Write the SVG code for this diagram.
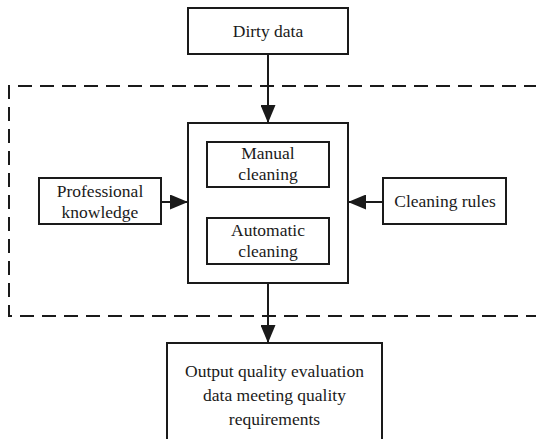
<svg xmlns="http://www.w3.org/2000/svg" width="536" height="439" viewBox="0 0 536 439">
<style>
.box{fill:#fff;stroke:#1a1a1a;stroke-width:2}
.t{font-family:"Liberation Serif","Times New Roman",serif;font-size:17.5px;fill:#1a1a1a;text-anchor:middle}
.ln{stroke:#1a1a1a;stroke-width:2;fill:none}
.dash{stroke:#1a1a1a;stroke-width:2;fill:none;stroke-dasharray:14 8}
</style>
<defs>
<marker id="ah2" viewBox="0 0 10 10" refX="10" refY="5" markerWidth="18" markerHeight="15" markerUnits="userSpaceOnUse" orient="auto" preserveAspectRatio="none">
<path d="M0,0 L10,5 L0,10 Z" fill="#1a1a1a"/>
</marker>
</defs>
<path class="dash" d="M560,86 H9 V316 H560"/>
<g id="dirty"><rect class="box" x="188" y="8" width="160" height="46"/><text class="t" x="268" y="37">Dirty data</text></g>
<g id="main"><rect class="box" x="188" y="123" width="160" height="160"/></g>
<g id="manual"><rect class="box" x="207" y="142" width="122" height="45"/><text class="t" x="268" y="159">Manual</text><text class="t" x="268" y="180">cleaning</text></g>
<g id="auto"><rect class="box" x="207" y="218" width="122" height="46"/><text class="t" x="268" y="236">Automatic</text><text class="t" x="268" y="257">cleaning</text></g>
<g id="prof"><rect class="box" x="39" y="178" width="122" height="46"/><text class="t" x="100" y="197">Professional</text><text class="t" x="100" y="218">knowledge</text></g>
<g id="rules"><rect class="box" x="383" y="178" width="123" height="46"/><text class="t" x="445" y="207">Cleaning rules</text></g>
<g id="output"><rect class="box" x="167" y="343" width="215" height="110"/><text class="t" x="274.5" y="377">Output quality evaluation</text><text class="t" x="274.5" y="401">data meeting quality</text><text class="t" x="274.5" y="425">requirements</text></g>
<g id="connectors">
<line class="ln" x1="268" y1="54" x2="268" y2="123" marker-end="url(#ah2)"/>
<line class="ln" x1="161" y1="202" x2="188" y2="202" marker-end="url(#ah2)"/>
<line class="ln" x1="383" y1="202" x2="348" y2="202" marker-end="url(#ah2)"/>
<line class="ln" x1="268" y1="283" x2="268" y2="343" marker-end="url(#ah2)"/>
</g>
</svg>
